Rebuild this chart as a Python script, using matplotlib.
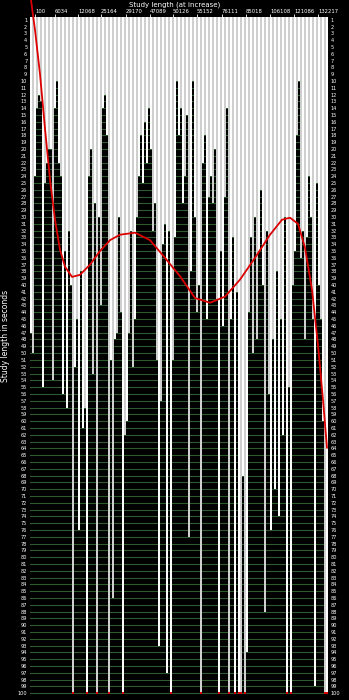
import numpy as np
import matplotlib.pyplot as plt

# bar values (row reached, 1 = top, 100 = bottom)
lengths = [47, 50, 24, 14, 12, 13, 55, 25, 22, 20,
           20, 54, 14, 10, 22, 24, 56, 35, 58, 32,
           40, 100, 52, 45, 76, 38, 61, 58, 100, 24,
           20, 53, 28, 100, 30, 43, 14, 12, 18, 100,
           51, 86, 48, 47, 30, 44, 100, 62, 60, 47,
           32, 52, 45, 30, 24, 18, 25, 16, 22, 14,
           20, 32, 28, 51, 93, 57, 34, 31, 97, 32,
           100, 51, 33, 10, 18, 14, 28, 24, 15, 77,
           38, 10, 30, 44, 40, 100, 22, 18, 45, 27,
           24, 28, 20, 42, 100, 35, 46, 27, 14, 100,
           45, 33, 100, 41, 100, 100, 68, 100, 94, 44,
           33, 50, 30, 48, 35, 26, 40, 88, 32, 56,
           76, 48, 70, 38, 74, 45, 62, 30, 100, 55,
           100, 40, 35, 18, 10, 36, 32, 48, 33, 24,
           30, 45, 99, 25, 40, 45, 60, 100, 100]

# trend line (bar index, row)
trend_x = [0, 2, 4.5, 7, 9.5, 12, 14.5, 17, 20.5, 24.5, 29.5, 34.5, 39.5,
           44.5, 52, 59.5, 67, 74.5, 82, 89.5, 97, 104.5, 112, 119.5,
           125.5, 129.5, 133.5, 137, 140.5, 143.5, 146, 148]
trend_y = [-1.9, 2.5, 9, 17, 24.5, 30.4, 34.8, 37.3, 38.8, 38.5, 37, 35,
           33.4, 32.6, 32.3, 33.4, 36, 38.7, 41.9, 42.6, 41.7, 39.2, 36,
           32.6, 30.4, 30.1, 31, 34.5, 40.7, 48.8, 56.9, 63.9]

tick_pos = [2, 12, 23.5, 35, 47.5, 59.5, 71, 83, 95.5, 107.5, 119.5, 131.5, 143.5]
tick_labels = ['100', '6034', '12068', '25164', '29170', '47089', '50126',
               '55152', '76111', '85018', '106108', '121086', '132217']

rows = np.arange(1, 101)
n = len(lengths)
x = np.arange(n)
top = 0.6

fig = plt.figure(figsize=(3.49, 7.0), dpi=100, facecolor='black')
ax = fig.add_axes([30 / 349, 1 - 696 / 700, 298 / 349, 679 / 700])
ax.set_facecolor('black')

for r in rows:
    ax.axhline(r, color='#2f5a2f', lw=0.8, zorder=1)

colors = ['#ffffff' if i % 2 == 0 else '#cfcfcf' for i in range(n)]
heights = np.array(lengths) - top
ax.bar(x, heights, bottom=top, width=1.0, color=colors, linewidth=0,
       antialiased=False, zorder=2)

full = [i for i, v in enumerate(lengths) if v >= 100]
ax.scatter(full, [100] * len(full), marker='s', s=2.5, color='#dd0000',
           linewidths=0, zorder=3)

ax.plot(trend_x, trend_y, color='#dd0000', lw=1.3, zorder=4, clip_on=False)

ax.set_xlim(-0.5, n - 0.5)
ax.set_ylim(100.4, top)

ax.xaxis.tick_top()
ax.set_xticks(tick_pos)
ax.set_xticklabels(tick_labels, fontsize=3.8, color='white', ha='left')
ax.tick_params(axis='x', colors='white', length=2, width=0.6, pad=0)

ax.set_yticks(rows)
ax.set_yticklabels([str(r) for r in rows], fontsize=3.6, color='white')
ax.tick_params(axis='y', length=0, pad=2, labelright=True, labelleft=True)

for s in ax.spines.values():
    s.set_visible(False)

fig.text(0.5, 1 - 5 / 700, 'Study length (at increase)', color='white',
         fontsize=5, ha='center', va='center')
fig.text(6 / 349, 0.52, 'Study length in seconds', color='white',
         fontsize=5.5, rotation=90, ha='center', va='center')

fig.savefig('out.png', dpi=100, facecolor='black')
